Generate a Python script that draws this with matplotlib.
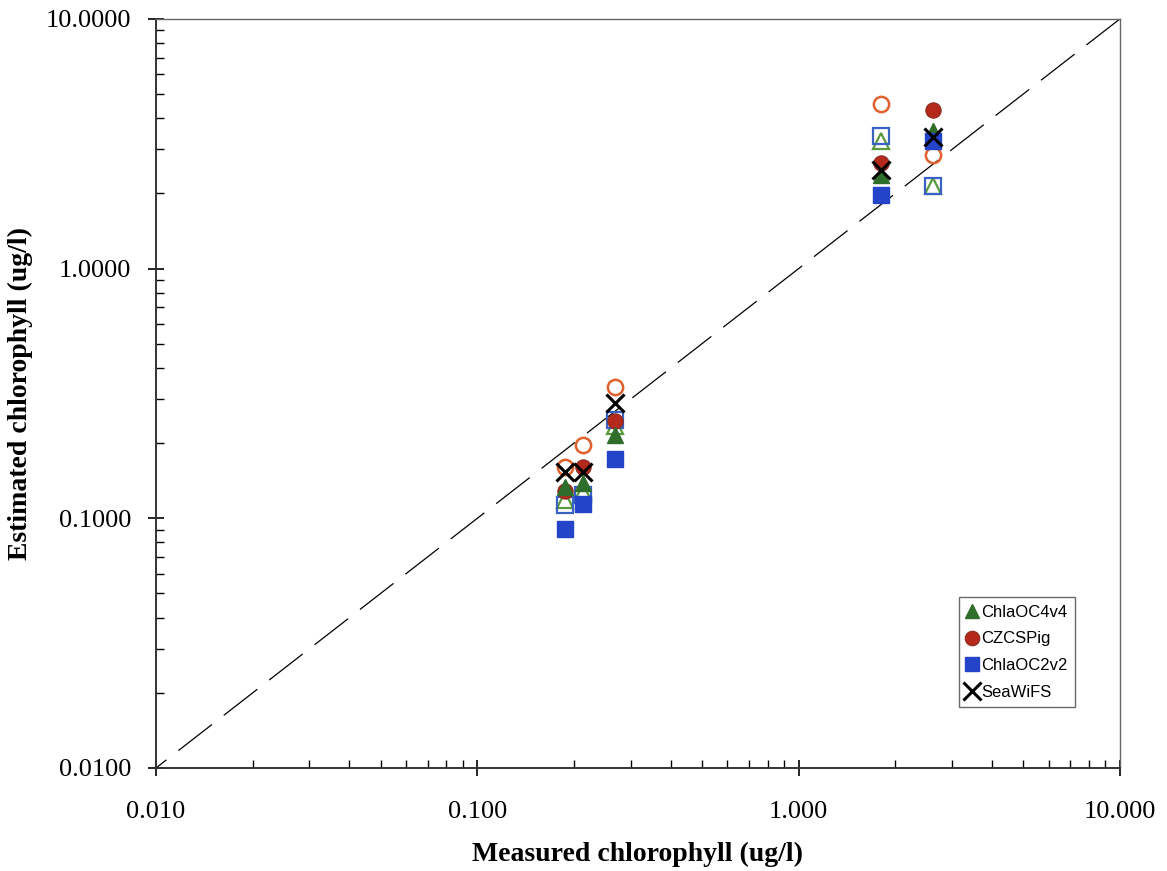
import numpy as np
import matplotlib.pyplot as plt
from matplotlib.ticker import LogLocator, FixedLocator, NullFormatter

# measured chlorophyll (x) for each station
measured = [0.188, 0.213, 0.268, 1.80, 2.62]

# filled series (shown in legend)
chla_oc4v4 = [0.133, 0.139, 0.216, 2.37, 3.55]
czcs_pig = [0.129, 0.160, 0.245, 2.65, 4.30]
chla_oc2v2 = [0.0905, 0.114, 0.172, 1.98, 3.25]
seawifs = [0.153, 0.153, 0.290, 2.48, 3.35]

# open markers (not in legend)
open_tri = [0.118, 0.128, 0.235, 3.25, 2.15]
open_circ = [0.161, 0.197, 0.337, 4.55, 2.85]
open_sq = [0.113, 0.124, 0.248, 3.40, 2.15]

x_ticks = [0.01, 0.1, 1, 10]
x_tick_labels = ["0.010", "0.100", "1.000", "10.000"]
y_ticks = [0.01, 0.1, 1, 10]
y_tick_labels = ["0.0100", "0.1000", "1.0000", "10.0000"]

plt.rcParams['font.family'] = ['Liberation Serif', 'DejaVu Serif']

fig = plt.figure(figsize=(11.67, 8.71), dpi=100)
ax = fig.add_axes([0.1337, 0.1183, 0.826, 0.86])

# 1:1 line, drawn from the top-right corner down
ax.plot([10, 0.01], [10, 0.01], color='black', lw=0.9, dashes=(34, 12), zorder=1)

green = '#2f6e2a'
red = '#b5291c'
blue = '#2343c8'

# open markers
ax.plot(measured, open_tri, linestyle='none', marker='^', ms=11, mfc='white',
        mec='#5a9a3a', mew=1.6, zorder=2)
ax.plot(measured, open_sq, linestyle='none', marker='s', ms=11, mfc='none',
        mec='#3a62c4', mew=1.6, zorder=2)
ax.plot(measured, open_circ, linestyle='none', marker='o', ms=11, mfc='none',
        mec='#e0602e', mew=1.8, zorder=2)

# filled series
ax.plot(measured, czcs_pig, linestyle='none', marker='o', ms=11, mfc=red,
        mec='#8a2a20', mew=0.8, label='CZCSPig', zorder=3)
ax.plot(measured, chla_oc4v4, linestyle='none', marker='^', ms=11, mfc=green,
        mec=green, label='ChlaOC4v4', zorder=3)
ax.plot(measured, chla_oc2v2, linestyle='none', marker='s', ms=11, mfc=blue,
        mec=blue, label='ChlaOC2v2', zorder=3)
ax.plot(measured, seawifs, linestyle='none', marker='x', ms=13, mew=2.2,
        color='black', label='SeaWiFS', zorder=4)

ax.set_xscale('log')
ax.set_yscale('log')
ax.set_xlim(0.01, 10)
ax.set_ylim(0.01, 10)

ax.xaxis.set_major_locator(FixedLocator(x_ticks))
ax.set_xticklabels(x_tick_labels)
ax.yaxis.set_major_locator(FixedLocator(y_ticks))
ax.set_yticklabels(y_tick_labels)
ax.xaxis.set_minor_locator(LogLocator(base=10, subs=np.arange(2, 10)))
ax.yaxis.set_minor_locator(LogLocator(base=10, subs=np.arange(2, 10)))
ax.xaxis.set_minor_formatter(NullFormatter())
ax.yaxis.set_minor_formatter(NullFormatter())

ax.tick_params(which='major', direction='inout', length=12, width=1.2,
               labelsize=19, top=False, right=False)
ax.tick_params(which='minor', direction='in', length=6, width=1.0,
               top=False, right=False)
ax.tick_params(axis='y', which='major', pad=12)
ax.tick_params(axis='x', which='major', pad=18)

for side in ['left', 'bottom']:
    ax.spines[side].set_linewidth(1.4)
    ax.spines[side].set_color('#333333')
for side in ['top', 'right']:
    ax.spines[side].set_linewidth(1.0)
    ax.spines[side].set_color('#666666')

ax.set_xlabel('Measured chlorophyll (ug/l)', fontsize=20, fontweight='bold', labelpad=13)
ax.set_ylabel('Estimated chlorophyll (ug/l)', fontsize=20, fontweight='bold', labelpad=9)

handles, labels = ax.get_legend_handles_labels()
order = [1, 0, 2, 3]
leg = ax.legend([handles[i] for i in order], [labels[i] for i in order],
                loc='lower right', bbox_to_anchor=(0.953, 0.081),
                prop={'family': 'Liberation Sans', 'size': 12},
                frameon=True, fancybox=False, edgecolor='#444444',
                handlelength=0.6, handletextpad=0.25, borderpad=0.45,
                labelspacing=0.7, markerscale=0.95, borderaxespad=0)
leg.get_frame().set_linewidth(1.0)

fig.savefig('out.png', dpi=100)
